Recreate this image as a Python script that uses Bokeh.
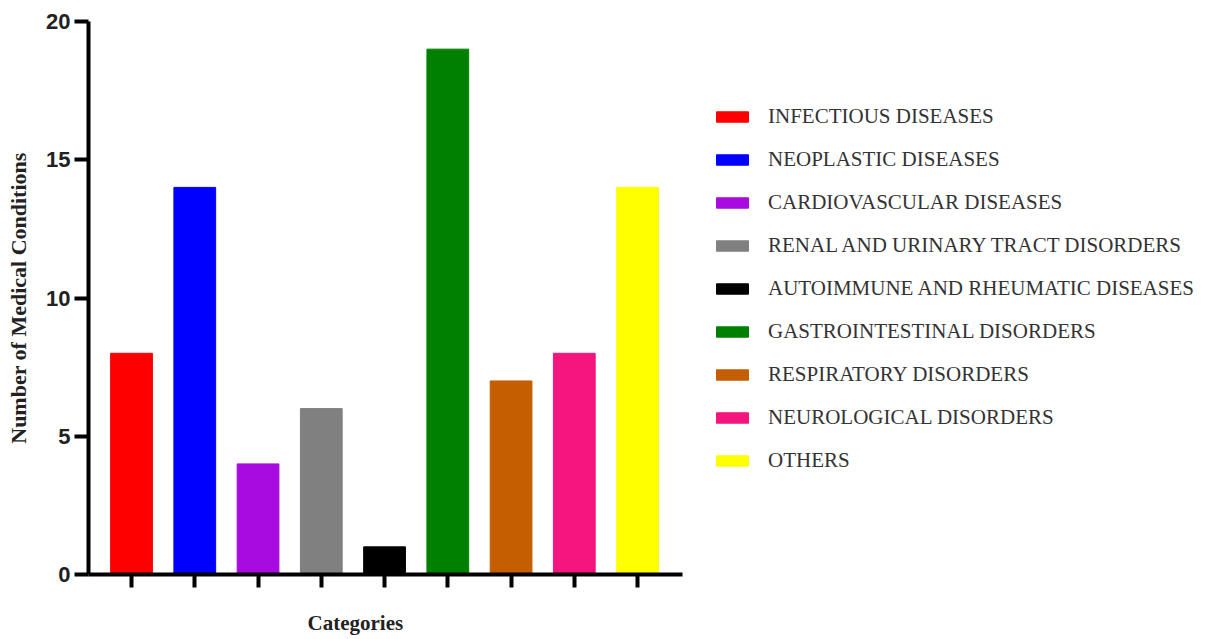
from bokeh.plotting import figure
from bokeh.models import ColumnDataSource, Range1d, FixedTicker, Legend, LegendItem, Title
from bokeh.embed import file_html
from bokeh.resources import INLINE

categories = [
    "INFECTIOUS DISEASES",
    "NEOPLASTIC DISEASES",
    "CARDIOVASCULAR DISEASES",
    "RENAL AND URINARY TRACT DISORDERS",
    "AUTOIMMUNE AND RHEUMATIC DISEASES",
    "GASTROINTESTINAL DISORDERS",
    "RESPIRATORY DISORDERS",
    "NEUROLOGICAL DISORDERS",
    "OTHERS",
]
counts = [8, 14, 4, 6, 1, 19, 7, 8, 14]
colors = ["#FF0000", "#0000FF", "#A80BE0", "#808080", "#000000",
          "#008000", "#C45E00", "#F5157F", "#FFFF00"]
y_ticks = [0, 5, 10, 15, 20]

positions = list(range(1, len(categories) + 1))
src = ColumnDataSource(dict(x=positions, top=counts, color=colors, cat=categories))

p = figure(frame_width=594, frame_height=553, output_backend="svg", toolbar_location=None,
           x_range=Range1d(0.32, 9.71), y_range=Range1d(0, 20),
           min_border_left=88, min_border_right=0, min_border_top=21,
           min_border_bottom=0)
p.outline_line_color = None
p.xgrid.grid_line_color = None
p.ygrid.grid_line_color = None

r = p.vbar(x="x", top="top", bottom=0, width=0.66, fill_color="color",
           line_color="color", source=src)

# y axis
yax = p.yaxis[0]
yax.ticker = FixedTicker(ticks=y_ticks)
yax.axis_line_width = 4
yax.axis_line_color = "black"
yax.major_tick_line_width = 4
yax.major_tick_line_color = "black"
yax.major_tick_out = 14
yax.major_tick_in = 0
yax.minor_tick_line_color = None
yax.major_label_text_font = "Liberation Sans"
yax.major_label_text_font_style = "bold"
yax.major_label_text_font_size = "22px"
yax.major_label_text_color = "#222222"
yax.major_label_standoff = 4
yax.axis_label = "Number of Medical Conditions"
yax.axis_label_text_font = "Liberation Serif"
yax.axis_label_text_font_style = "bold"
yax.axis_label_text_font_size = "22px"
yax.axis_label_text_color = "#222222"
yax.axis_label_standoff = 12

# x axis
xax = p.xaxis[0]
xax.ticker = FixedTicker(ticks=positions)
xax.axis_line_width = 4
xax.axis_line_color = "black"
xax.major_tick_line_width = 4
xax.major_tick_line_color = "black"
xax.major_tick_out = 13
xax.major_tick_in = 0
xax.minor_tick_line_color = None
xax.major_label_overrides = {i: "" for i in positions}
xax.major_label_standoff = 0

xtitle = Title(text="Categories", align="left", offset=219,
               text_font="Liberation Serif", text_font_style="bold",
               text_font_size="21px", text_color="#222222", standoff=42)
p.add_layout(xtitle, "below")

legend = Legend(items=[LegendItem(label=c, renderers=[r], index=i)
                       for i, c in enumerate(categories)],
                location=(30, 101))
legend.glyph_width = 40
legend.glyph_height = 13
legend.label_standoff = 16
legend.label_height = 26
legend.spacing = 17
legend.padding = 0
legend.margin = 0
legend.border_line_color = None
legend.background_fill_alpha = 0
legend.label_text_font = "Liberation Serif"
legend.label_text_font_size = "21px"
legend.label_text_color = "#333333"
p.add_layout(legend, "right")

open("out.html", "w").write(file_html(p, INLINE))
